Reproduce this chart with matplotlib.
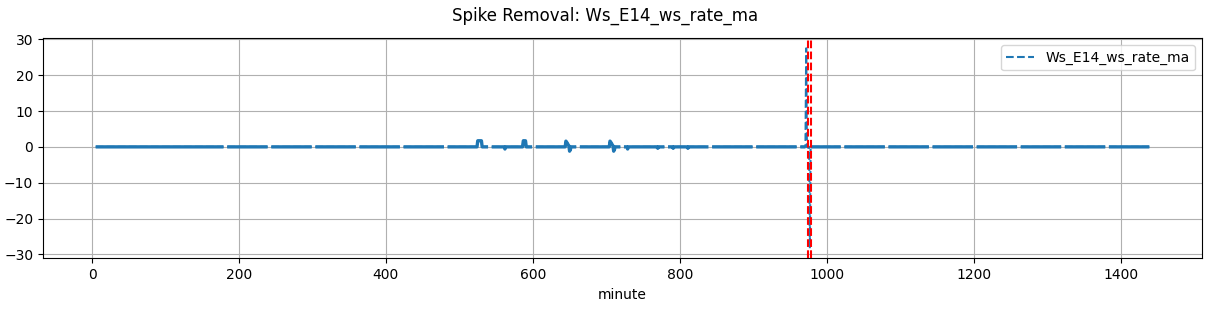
import numpy as np
import matplotlib
matplotlib.use("Agg")
import matplotlib.pyplot as plt
from matplotlib.lines import Line2D

# ---- data ----
series_name = "Ws_E14_ws_rate_ma"
first_minute = 5
last_minute = 1439
# minutes at which the series restarts (a few missing values each)
gap_minutes = [180, 240, 300, 360, 420, 480, 540, 600, 660, 720, 780, 840,
               900, 960, 1020, 1080, 1140, 1200, 1260, 1320, 1380]
gap_length = 4
# non-zero values of the rate series (minute -> value); everything else ~0
event_minutes = [525, 526, 527, 528, 529, 530,
                 562,
                 587, 588, 589, 590,
                 645, 646, 647, 648, 649, 650, 651,
                 705, 706, 707, 708, 709, 710, 711,
                 729, 770, 791, 811,
                 972, 977]
event_values = [1.7, 1.7, 1.7, 1.7, 1.7, 1.7,
                -0.6,
                1.7, 1.7, 1.7, 1.7,
                1.6, 1.3, 1.0, 0.6, 0.3, -1.2, -0.8,
                1.6, 1.3, 1.0, 0.6, 0.3, -1.2, -0.8,
                -0.6, -0.4, -0.4, -0.4,
                27.5, -28.3]
spike_bounds = [974, 978]

# ---- build series ----
minute = np.arange(first_minute, last_minute + 1)
values = np.zeros(len(minute), dtype=float)
for m, v in zip(event_minutes, event_values):
    values[m - first_minute] = v
for g in gap_minutes:
    values[g - first_minute:g - first_minute + gap_length] = np.nan

base = np.where(np.abs(values) < 3, values, np.nan)

fig = plt.figure(figsize=(12.11, 3.11), dpi=100)
ax = fig.add_axes([43 / 1211, 1 - 258.3 / 311, (1202 - 43) / 1211, 220 / 311])

ax.plot(minute, base, color="C0", lw=2.4, solid_capstyle="butt", zorder=2)
ax.plot(minute, values, color="C0", lw=1.5, ls="--", zorder=2)
for b in spike_bounds:
    ax.axvline(b, color="red", ls="--", lw=1.5, zorder=3)

ax.grid(True)
ax.set_xlabel("minute")
ax.legend(handles=[Line2D([], [], color="C0", ls="--", lw=1.5)],
          labels=[series_name], loc="upper right")
fig.suptitle("Spike Removal: " + series_name, fontsize=12, y=0.978)

fig.savefig("out.png", dpi=100)
